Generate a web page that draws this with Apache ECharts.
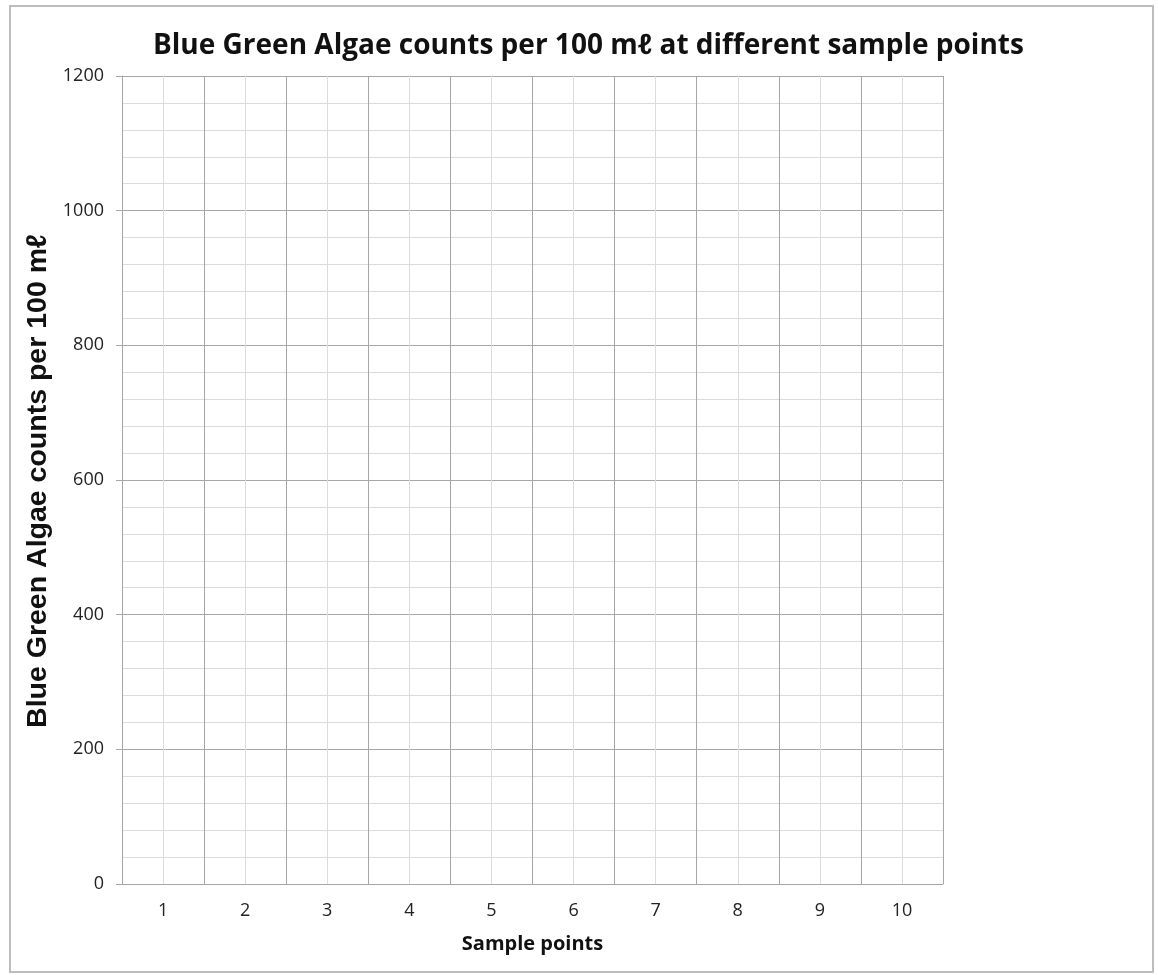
<!DOCTYPE html>
<html>
<head>
<meta charset="utf-8">
<script src="https://cdn.jsdelivr.net/npm/echarts@6/dist/echarts.min.js"></script>
<style>
html,body{margin:0;padding:0;background:#fff;}
#chart{width:1158px;height:975px;}
</style>
</head>
<body>
<div id="chart"></div>
<script>
const titleText = 'Blue Green Algae counts per 100 mℓ at different sample points';
const xAxisTitle = 'Sample points';
const yAxisTitle = 'Blue Green Algae counts per 100 mℓ';
const categories = ['1','2','3','4','5','6','7','8','9','10'];
const counts = [null, null, null, null, null, null, null, null, null, null];
const yMin = 0;
const yMax = 1200;
const yInterval = 200;

const chart = echarts.init(document.getElementById('chart'), null, {renderer:'canvas'});
const labelFont = '"Open Sans", "Liberation Sans", sans-serif';
chart.setOption({
  backgroundColor: '#ffffff',
  animation: false,
  title: {
    text: titleText,
    left: 148,
    top: 27,
    textStyle: {fontFamily: labelFont, fontWeight: 'bold', fontSize: 28, color: '#111'}
  },
  graphic: [
    {type:'rect', shape:{x:10, y:6, width:1143, height:966}, style:{fill:'none', stroke:'#bdbdbd', lineWidth:2}, silent:true, z:-1},
    {type:'text', x: 38, y: 481, rotation: Math.PI/2, style:{text: yAxisTitle, font: 'bold 28.5px "Liberation Sans", Arial, sans-serif', fill:'#111', textAlign:'center', textVerticalAlign:'middle'}}
  ],
  grid: {left: 122, right: 215, top: 76, bottom: 91, containLabel: false},
  xAxis: [
    {
      type: 'category',
      data: categories,
      boundaryGap: true,
      name: xAxisTitle,
      nameLocation: 'middle',
      nameGap: 50,
      nameTextStyle: {fontFamily: labelFont, fontWeight:'bold', fontSize: 20, color:'#111'},
      axisLine: {show: true, lineStyle:{color:'#a6a6a6', width:1}},
      axisTick: {show: false},
      axisLabel: {fontFamily: labelFont, fontSize: 18, color:'#222', margin: 18},
      splitLine: {show: false}
    },
    {
      type: 'value',
      min: 0, max: categories.length, interval: 1,
      show: true,
      position: 'bottom',
      axisLine: {show:false}, axisTick:{show:false}, axisLabel:{show:false},
      splitLine: {show: true, lineStyle: {color:'#a6a6a6', width:1}},
      minorTick: {show:false, splitNumber: 2},
      minorSplitLine: {show: true, lineStyle: {color:'#dcdcdc', width:1}}
    }
  ],
  yAxis: {
    type: 'value',
    min: yMin, max: yMax, interval: yInterval,
    axisLine: {show: true, lineStyle:{color:'#a6a6a6'}},
    axisTick: {show: true, length: 6, lineStyle:{color:'#a6a6a6'}},
    axisLabel: {fontFamily: labelFont, fontSize: 18, color:'#222', margin: 18, formatter: v => String(v)},
    splitLine: {show: true, lineStyle:{color:'#a6a6a6', width:1}},
    minorTick: {show:false, splitNumber: 5},
    minorSplitLine: {show: true, lineStyle:{color:'#dcdcdc', width:1}}
  },
  series: [
    {type:'bar', xAxisIndex:0, data: counts, itemStyle:{color:'#4472c4'}}
  ]
});
</script>
</body>
</html>
